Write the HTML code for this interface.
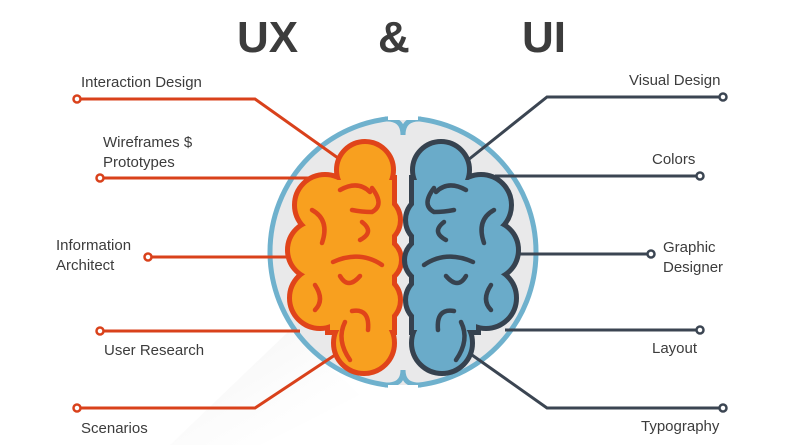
<!DOCTYPE html>
<html><head><meta charset="utf-8"><style>
html,body{margin:0;padding:0;background:#fff;}
svg{display:block;}
text{font-family:"Liberation Sans",sans-serif;fill:#3c3c3c;}
</style></head><body>
<svg width="800" height="445" viewBox="0 0 800 445" xmlns="http://www.w3.org/2000/svg">
<defs>
<linearGradient id="sh" x1="0" y1="0" x2="1" y2="1">
<stop offset="0" stop-color="#e2e2e2"/><stop offset="1" stop-color="#fff" stop-opacity="0"/></linearGradient>
</defs>
<text x="237" y="52" font-size="44" font-weight="bold" fill="#3a3a3a">UX</text>
<text x="378" y="52" font-size="44" font-weight="bold" fill="#3a3a3a">&amp;</text>
<text x="522" y="52" font-size="44" font-weight="bold" fill="#3a3a3a">UI</text>

<polygon points="290,330 360,395 260,445 170,445" fill="url(#sh)" opacity="0.5"/>

<ellipse cx="403" cy="252" rx="133" ry="134" fill="#e9e9ea" stroke="#6fb1cd" stroke-width="5"/>
<path d="M385,119 Q403,118 403,135 Q403,118 421,119" fill="#e9e9ea" stroke="#6fb1cd" stroke-width="5"/>
<path d="M385,385 Q403,386 403,370 Q403,386 421,385" fill="#e9e9ea" stroke="#6fb1cd" stroke-width="5"/>
<rect x="388" y="112" width="30" height="8" fill="#fff"/>
<rect x="388" y="385" width="30" height="8" fill="#fff"/>

<g stroke="#d9411b" stroke-width="3" fill="none">
<polyline points="80,99 255,99 338,158"/>
<line x1="103" y1="178" x2="310" y2="178"/>
<line x1="151" y1="257" x2="292" y2="257"/>
<line x1="103" y1="331" x2="300" y2="331"/>
<polyline points="80,408 255,408 335,355"/>
</g>
<g stroke="#d9411b" stroke-width="2.5" fill="#fff">
<circle cx="77" cy="99" r="3.5"/><circle cx="100" cy="178" r="3.5"/><circle cx="148" cy="257" r="3.5"/><circle cx="100" cy="331" r="3.5"/><circle cx="77" cy="408" r="3.5"/>
</g>
<g stroke="#3b4552" stroke-width="3" fill="none">
<polyline points="468,160 547,97 720,97"/>
<line x1="495" y1="176" x2="697" y2="176"/>
<line x1="515" y1="254" x2="648" y2="254"/>
<line x1="505" y1="330" x2="697" y2="330"/>
<polyline points="472,355 547,408 720,408"/>
</g>
<g stroke="#3b4552" stroke-width="2.5" fill="#fff">
<circle cx="723" cy="97" r="3.5"/><circle cx="700" cy="176" r="3.5"/><circle cx="651" cy="254" r="3.5"/><circle cx="700" cy="330" r="3.5"/><circle cx="723" cy="408" r="3.5"/>
</g>

<g>
<g stroke="#e0441a" stroke-width="10" fill="#e0441a">
<circle cx="365" cy="170" r="26"/><circle cx="325" cy="205" r="28"/><circle cx="317" cy="250" r="27"/>
<circle cx="320" cy="298" r="28"/><circle cx="364" cy="343" r="28"/><circle cx="376" cy="300" r="22"/>
<circle cx="376" cy="220" r="22"/><circle cx="379" cy="260" r="20"/><rect x="330" y="180" width="62" height="150"/>
</g>
<g fill="#f8a01f">
<circle cx="365" cy="170" r="26"/><circle cx="325" cy="205" r="28"/><circle cx="317" cy="250" r="27"/>
<circle cx="320" cy="298" r="28"/><circle cx="364" cy="343" r="28"/><circle cx="376" cy="300" r="22"/>
<circle cx="376" cy="220" r="22"/><circle cx="379" cy="260" r="20"/><rect x="330" y="180" width="62" height="150"/>
</g>
<g stroke="#e0441a" stroke-width="4.5" fill="none" stroke-linecap="round">
<path d="M340,190 Q358,180 370,192"/><path d="M372,188 Q385,205 372,212 Q362,212 352,210"/>
<path d="M312,210 Q330,220 322,243"/><path d="M362,222 Q375,232 360,240"/>
<path d="M333,262 Q360,250 382,265"/><path d="M340,276 Q348,290 360,276"/>
<path d="M315,285 Q325,300 315,310"/><path d="M352,311 Q370,308 368,330"/>
<path d="M345,322 Q336,340 350,360"/>
</g>
</g>
<g transform="translate(806,0) scale(-1,1)">
<g stroke="#36424f" stroke-width="10" fill="#36424f">
<circle cx="365" cy="170" r="26"/><circle cx="325" cy="205" r="28"/><circle cx="317" cy="250" r="27"/>
<circle cx="320" cy="298" r="28"/><circle cx="364" cy="343" r="28"/><circle cx="376" cy="300" r="22"/>
<circle cx="376" cy="220" r="22"/><circle cx="379" cy="260" r="20"/><rect x="330" y="180" width="62" height="150"/>
</g>
<g fill="#6aabc9">
<circle cx="365" cy="170" r="26"/><circle cx="325" cy="205" r="28"/><circle cx="317" cy="250" r="27"/>
<circle cx="320" cy="298" r="28"/><circle cx="364" cy="343" r="28"/><circle cx="376" cy="300" r="22"/>
<circle cx="376" cy="220" r="22"/><circle cx="379" cy="260" r="20"/><rect x="330" y="180" width="62" height="150"/>
</g>
<g stroke="#36424f" stroke-width="4.5" fill="none" stroke-linecap="round">
<path d="M340,190 Q358,180 370,192"/><path d="M372,188 Q385,205 372,212 Q362,212 352,210"/>
<path d="M312,210 Q330,220 322,243"/><path d="M362,222 Q375,232 360,240"/>
<path d="M333,262 Q360,250 382,265"/><path d="M340,276 Q348,290 360,276"/>
<path d="M315,285 Q325,300 315,310"/><path d="M352,311 Q370,308 368,330"/>
<path d="M345,322 Q336,340 350,360"/>
</g>
</g>

<g font-size="15">
<text x="81" y="87">Interaction Design</text>
<text x="103" y="147">Wireframes $</text>
<text x="103" y="167">Prototypes</text>
<text x="56" y="250">Information</text>
<text x="56" y="270">Architect</text>
<text x="104" y="355">User Research</text>
<text x="81" y="433">Scenarios</text>
<text x="629" y="85">Visual Design</text>
<text x="652" y="164">Colors</text>
<text x="663" y="252">Graphic</text>
<text x="663" y="272">Designer</text>
<text x="652" y="353">Layout</text>
<text x="641" y="431">Typography</text>
</g>
</svg>
</body></html>
